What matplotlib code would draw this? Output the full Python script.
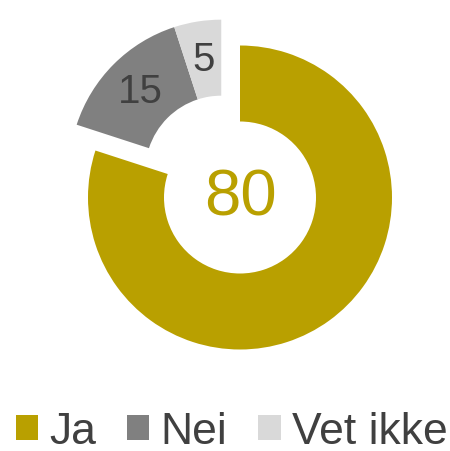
import numpy as np
import matplotlib
matplotlib.use('Agg')
import matplotlib.pyplot as plt
from matplotlib.patches import Patch

plt.rcParams['font.family'] = ['Liberation Sans', 'DejaVu Sans']

# data
labels = ['Ja', 'Nei', 'Vet ikke']
values = [80, 15, 5]
colors = ['#B9A000', '#808080', '#D9D9D9']
label_sizes = [47, 29, 29]

fig = plt.figure(figsize=(4.5, 4.52), dpi=100)
ax = fig.add_axes([0, 0, 1, 1])
ax.axis('off')

wedges, _ = ax.pie(values, colors=colors, startangle=90, counterclock=False,
                   radius=1, wedgeprops=dict(width=0.5, linewidth=0))

# the two small slices are pulled out together
total = sum(values)
start = 90 - 360 * values[0] / total + 360
mid = np.deg2rad((start + 90) / 2)
shift = 0.21 * np.array([np.cos(mid), np.sin(mid)])
for w in wedges[1:]:
    w.set_center(tuple(shift))

# value labels
ax.text(0, 0, str(values[0]), ha='center', va='center',
        fontsize=label_sizes[0], color=colors[0])
for i in (1, 2):
    w = wedges[i]
    a = np.deg2rad((w.theta1 + w.theta2) / 2)
    x = 0.75 * np.cos(a) + shift[0]
    y = 0.75 * np.sin(a) + shift[1]
    ax.text(x, y, str(values[i]), ha='center', va='center',
            fontsize=label_sizes[i], color='#404040')

ax.set_xlim(-240 / 152, 210 / 152)
ax.set_ylim(-253.5 / 152, 198.5 / 152)

handles = [Patch(facecolor=c, edgecolor='none') for c in colors]
fig.legend(handles, labels, loc='lower center', bbox_to_anchor=(0.515, -0.072),
           ncol=3, frameon=False, fontsize=32, handlelength=0.5,
           handleheight=0.5, handletextpad=0.25, columnspacing=0.7,
           labelcolor='#404040', borderpad=0.2)

fig.savefig('out.png', dpi=100)
